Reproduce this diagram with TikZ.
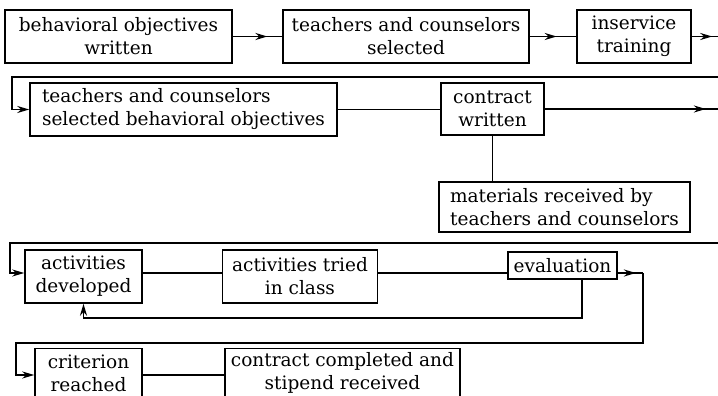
\documentclass[tikz,border=0pt]{standalone}
\usepackage{fontspec}
\setmainfont{DejaVu Serif}
\usetikzlibrary{arrows.meta,decorations.markings,positioning}

\begin{document}
\begin{tikzpicture}[
	x=1pt, y=-1pt,
	>={Stealth[length=12pt,width=7pt]},
	box/.style 2 args = {draw, line width=1.5pt, align=center, inner sep=0pt,
	minimum width=#1, minimum height=#2,
	font=\fontsize{18.5}{23}\selectfont},
	flow/.style = {line width=1.8pt},
	tip/.style = {postaction={decorate}, decoration={markings,
	mark=at position #1 with {\arrow{>}}}}
]
\useasboundingbox (0,0) rectangle (718,396);
\node[box={227pt}{53pt}] (obj) at (118.5,36.5) {behavioral objectives\\written};
\node[box={246pt}{53pt}] (sel) at (406,36.5) {teachers and counselors\\selected};
\node[box={114pt}{53pt}] (train) at (634,36.5) {inservice\\training};
\node[box={307pt}{53pt}, align=left] (choose) at (183.5,109.5) {teachers and counselors\\selected behavioral objectives};
\node[box={103pt}{52pt}] (contract) at (492.5,109) {contract\\written};
\node[box={251pt}{50pt}, align=left] (mat) at (564.5,207) {materials received by\\teachers and counselors};
\node[box={117pt}{53pt}] (dev) at (83.5,276.5) {activities\\developed};
\node[box={155pt}{53pt}] (tried) at (300,276.5) {activities tried\\in class};
\node[box={109pt}{27pt}] (eval) at (562.5,265.5) {evaluation};
\node[box={107pt}{49pt}] (crit) at (88.5,373) {criterion\\reached};
\node[box={235pt}{49pt}] (done) at (342.5,373) {contract completed and\\stipend received};

\coordinate (r1out) at (718,36.5);
\coordinate (r1back) at (718,77);
\coordinate (r1left) at (12,77);
\coordinate (r2out) at (718,109);
\coordinate (r2back) at (718,243);
\coordinate (r2left) at (10,243);
\coordinate (r3turn) at (643,273);
\coordinate (r3left) at (16,343);

\draw[flow, tip=0.7] (obj) -- (sel);
\draw[flow, tip=0.58] (sel) -- (train);
\draw[flow, tip=0.78] (train) -- (r1out);
\draw[flow, ->] (r1back) -- (r1left) |- (choose.west);
\draw[flow] (choose.east) -- (choose.east -| contract.west);
\draw[flow, tip=0.93] (contract) -- (r2out);
\draw[flow] (contract.south) -- (contract.south |- mat.north);
\draw[flow, ->] (r2back) -- (r2left) |- ([yshift=3.5pt]dev.west);
\draw[flow] ([yshift=3.5pt]dev.east) -- ([yshift=3.5pt]tried.west);
\draw[flow] ([yshift=3.5pt]tried.east) -- ([yshift=3.5pt]tried.east -| eval.west);
\draw[flow, tip=0.72] ([yshift=-7.5pt]eval.east) -- (r3turn);
\draw[flow, ->] (r3turn) |- (r3left) |- ([yshift=-2pt]crit.west);
\draw[flow, ->] ([xshift=19.5pt]eval.south) |- ([yshift=-14pt]dev.south) -- (dev.south);
\draw[flow] ([yshift=-2pt]crit.east) -- ([yshift=-2pt]done.west);
\end{tikzpicture}
\end{document}
